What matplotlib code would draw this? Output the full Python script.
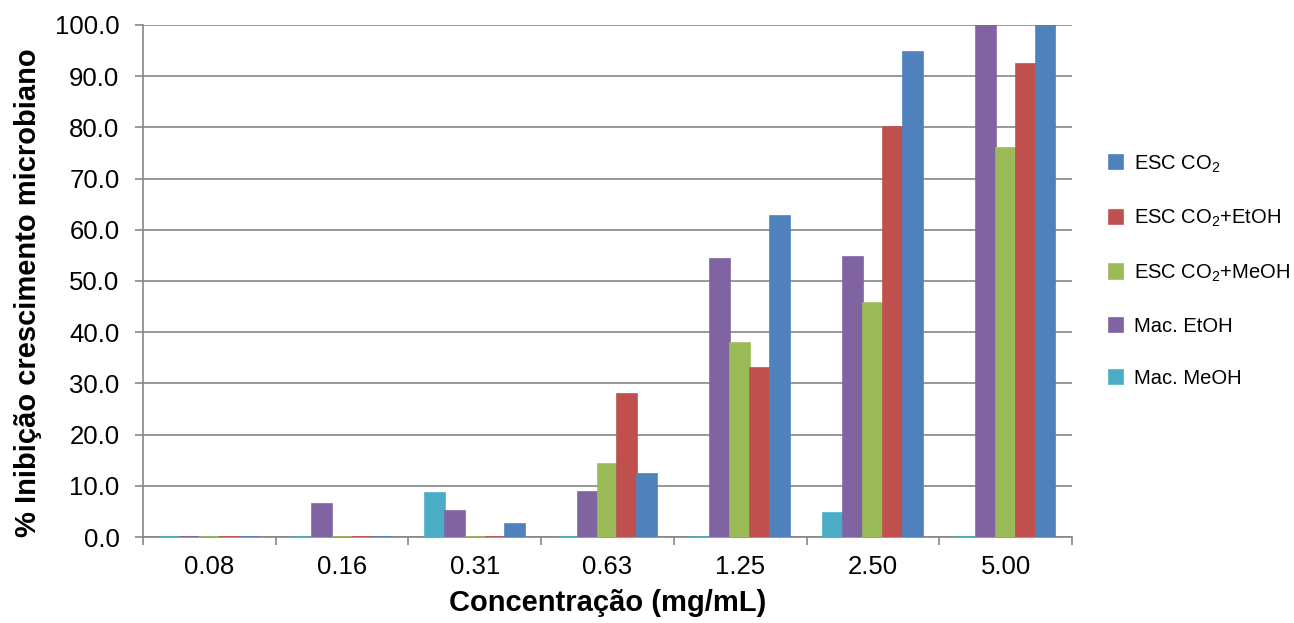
import numpy as np
import matplotlib.pyplot as plt

plt.rcParams['font.family'] = ['Liberation Sans', 'DejaVu Sans']
plt.rcParams['mathtext.fontset'] = 'custom'
plt.rcParams['mathtext.rm'] = 'Liberation Sans'
plt.rcParams['mathtext.it'] = 'Liberation Sans'

# dados
concentracoes = ['0.08', '0.16', '0.31', '0.63', '1.25', '2.50', '5.00']
mac_meoh = [0, 0, 8.5, 0, 0, 4.7, 0]
mac_etoh = [0, 6.4, 5.1, 8.8, 54.2, 54.6, 100.0]
esc_meoh = [0, 0, 0, 14.3, 37.8, 45.7, 76.0]
esc_etoh = [0, 0, 0, 28.0, 33.0, 80.0, 92.4]
esc_co2 = [0, 0, 2.6, 12.3, 62.7, 94.7, 100.0]

series = [
    ('Mac. MeOH', mac_meoh, '#4bacc6'),
    ('Mac. EtOH', mac_etoh, '#8064a2'),
    ('ESC CO$_2$+MeOH', esc_meoh, '#9bbb59'),
    ('ESC CO$_2$+EtOH', esc_etoh, '#c0504d'),
    ('ESC CO$_2$', esc_co2, '#4f81bd'),
]

fig = plt.figure(figsize=(12.94, 6.23), dpi=100)
ax = fig.add_axes([0.1105, 0.138, 0.718, 0.822])

x = np.arange(len(concentracoes))
w = 0.15
for i, (nome, vals, cor) in enumerate(series):
    ax.bar(x + (i - 2) * w, vals, w, color=cor, edgecolor=cor, linewidth=1.2,
           label=nome, zorder=3)

ax.set_ylim(0, 100)
ax.set_xlim(-0.5, len(concentracoes) - 0.5)
ax.set_yticks(np.arange(0, 101, 10))
ax.set_yticklabels([f'{v:.1f}' for v in np.arange(0, 101, 10)])
ax.set_xticks(x)
ax.set_xticklabels(concentracoes)
ax.set_xticks(np.arange(-0.5, len(concentracoes)), minor=True)
ax.tick_params(axis='x', which='major', length=0, pad=13, labelsize=18.5)
ax.tick_params(axis='x', which='minor', length=6, color='#868686', width=1.2)
ax.tick_params(axis='y', length=6, color='#868686', width=1.2, labelsize=18.5, pad=11)
ax.grid(axis='y', color='#868686', linewidth=1.2, zorder=0)
for s in ['top', 'right']:
    ax.spines[s].set_visible(False)
for s in ['left', 'bottom']:
    ax.spines[s].set_color('#868686')
    ax.spines[s].set_linewidth(1.2)

ax.set_xlabel('Concentração (mg/mL)', fontsize=21, fontweight='bold', labelpad=7)
ax.set_ylabel('% Inibição crescimento microbiano', fontsize=21, fontweight='bold', labelpad=9)
ax.yaxis.label.set_y(0.477)

h, l = ax.get_legend_handles_labels()
ax.legend(h[::-1], l[::-1], loc='center left', bbox_to_anchor=(1.02, 0.52),
          frameon=False, fontsize=14.5, handlelength=0.72, handleheight=0.72,
          labelspacing=1.65, handletextpad=0.55)

plt.savefig('out.png', dpi=100)
